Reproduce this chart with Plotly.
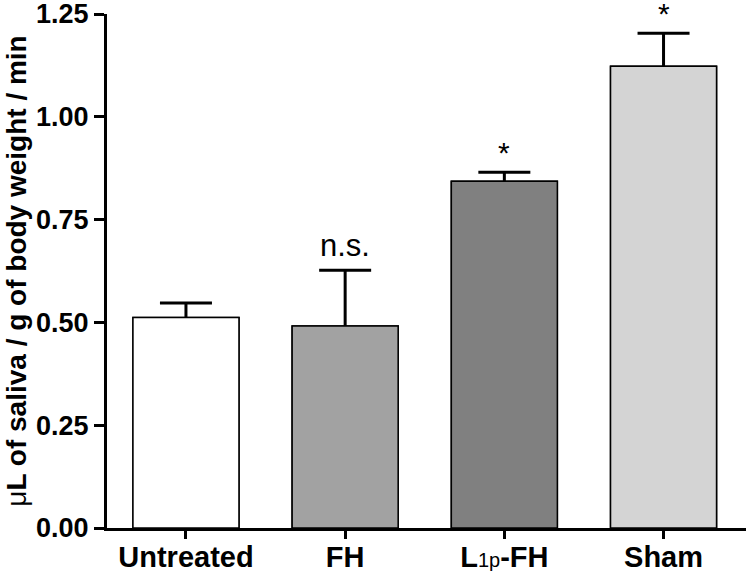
import plotly.graph_objects as go

# ---- data ----
categories = ["Untreated", "FH", "L<span style='font-weight:normal;font-size:20px'>1p</span>-FH", "Sham"]
means = [0.512, 0.491, 0.843, 1.123]
sem = [0.035, 0.136, 0.022, 0.080]
sig_labels = ["", "n.s.", "*", "*"]
bar_colors = ["#ffffff", "#a2a2a2", "#808080", "#d4d4d4"]
y_ticks = [0.0, 0.25, 0.5, 0.75, 1.0, 1.25]

x_pos = list(range(len(categories)))
FONT = "Liberation Sans, Arial, Helvetica, sans-serif"

fig = go.Figure()

# bars carrying the (upper) error bars; lower part of the whisker is hidden
fig.add_trace(go.Bar(
    x=x_pos, y=means, width=0.666,
    marker=dict(color=bar_colors, line=dict(color="black", width=1.5)),
    error_y=dict(type="data", symmetric=False, array=sem, arrayminus=means,
                 color="black", thickness=3, width=26),
    hoverinfo="skip", showlegend=False,
))
# identical bars drawn on top so only the upward whisker shows
fig.add_trace(go.Bar(
    x=x_pos, y=means, width=0.666,
    marker=dict(color=bar_colors, line=dict(color="black", width=1.5)),
    showlegend=False,
))

for xi, m, e, lab in zip(x_pos, means, sem, sig_labels):
    if not lab:
        continue
    if lab == "*":
        fig.add_annotation(x=xi, y=m + e, text=lab, showarrow=False,
                           yanchor="bottom", yshift=1,
                           font=dict(family=FONT, size=30, color="black"))
    else:
        fig.add_annotation(x=xi, y=m + e, text=lab, showarrow=False,
                           yanchor="bottom", yshift=5,
                           font=dict(family=FONT, size=31, color="black"))

fig.update_layout(
    width=750, height=577,
    margin=dict(l=107, r=4, t=14, b=49, autoexpand=False),
    paper_bgcolor="white", plot_bgcolor="white",
    barmode="overlay",
    font=dict(family=FONT, color="black"),
    xaxis=dict(
        range=[-0.496, 3.518], automargin=False,
        tickmode="array", tickvals=x_pos, ticktext=categories,
        tickfont=dict(family=FONT, size=29, color="black", weight="bold"),
        ticks="outside", ticklen=8, tickwidth=3, tickcolor="black",
        ticklabelstandoff=-7, ticklabeloverflow="allow",
        showline=True, linecolor="black", linewidth=3,
        showgrid=False, zeroline=False,
    ),
    yaxis=dict(
        range=[0, 1.25], automargin=False,
        tickmode="array", tickvals=y_ticks, tickformat=".2f",
        tickfont=dict(family=FONT, size=27, color="black", weight="bold"),
        ticks="outside", ticklen=10, tickwidth=3, tickcolor="black",
        ticklabelstandoff=0, ticklabeloverflow="allow",
        showline=True, linecolor="black", linewidth=3,
        showgrid=False, zeroline=False,
        title=dict(
            text="<span style='font-weight:normal'>μ</span>L of saliva / g of body weight / min",
            font=dict(family=FONT, size=28, color="black", weight="bold"),
            standoff=2,
        ),
    ),
)

fig.write_html("out.html", config={"displayModeBar": False},
               post_script="document.body.style.margin='0px';")
